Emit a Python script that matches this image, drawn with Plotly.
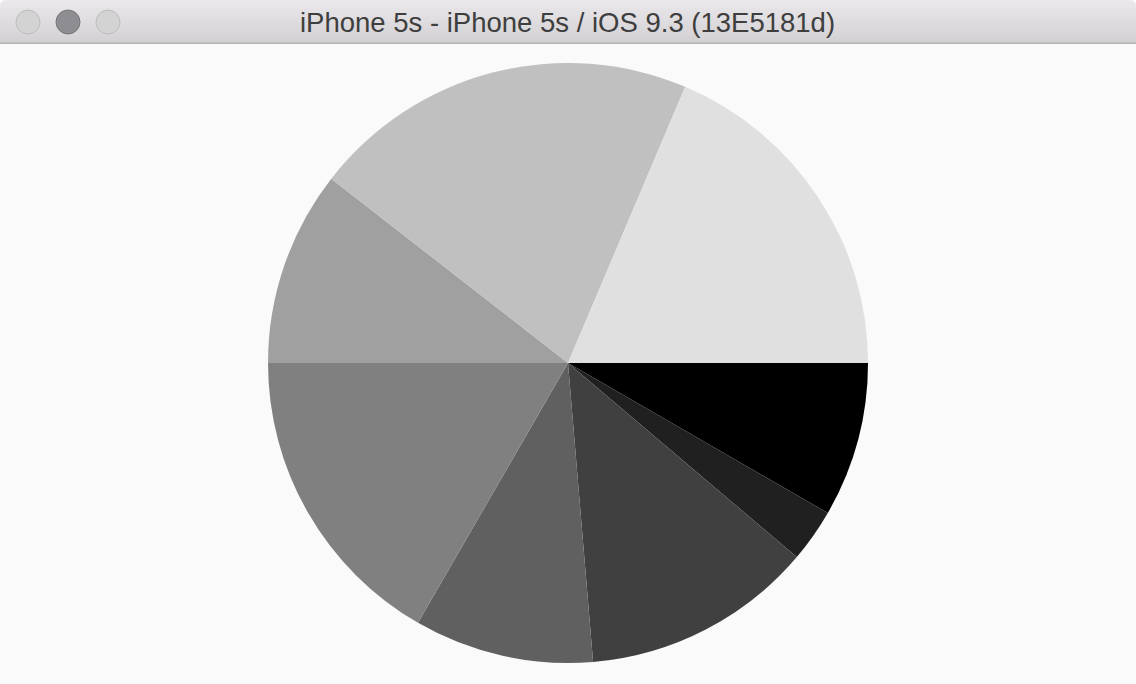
import plotly.graph_objects as go

# Slice values (degrees of the full circle), clockwise from 3 o'clock
labels = ["A", "B", "C", "D", "E", "F", "G", "H"]
values = [30, 10.3, 44.9, 34.8, 60, 37.9, 75.1, 67.0]
colors = ["#000000", "#202020", "#404040", "#606060", "#808080", "#a0a0a0", "#c0c0c0", "#e0e0e0"]
title_text = "iPhone 5s - iPhone 5s / iOS 9.3 (13E5181d)"

W, H = 1136, 684

def px(x):
    return x / W

def py(y):
    return 1 - y / H

fig = go.Figure()
fig.add_trace(go.Pie(
    labels=labels, values=values, sort=False, direction="clockwise", rotation=90,
    marker=dict(colors=colors, line=dict(width=0)),
    textinfo="none", hoverinfo="label+value", showlegend=False,
    domain=dict(x=[px(268), px(868)], y=[py(663), py(63)]),
))

shapes = []
# title bar gradient
top = (0xea, 0xe8, 0xea)
bot = (0xd2, 0xd0, 0xd2)
n = 22
for i in range(n):
    t = i / (n - 1)
    c = tuple(round(top[k] + (bot[k] - top[k]) * t) for k in range(3))
    shapes.append(dict(type="rect", xref="paper", yref="paper",
                       x0=0, x1=1, y0=py(i * 2 + 2), y1=py(i * 2),
                       fillcolor="rgb(%d,%d,%d)" % c, line=dict(width=0), layer="below"))
shapes.append(dict(type="rect", xref="paper", yref="paper", x0=0, x1=1,
                   y0=py(44), y1=py(42.5), fillcolor="#b4b2b4", line=dict(width=0)))
# rounded corners (white)
for cx, sgn in [(0, 1), (W, -1)]:
    shapes.append(dict(type="path", xref="paper", yref="paper",
                       path="M %f %f L %f %f Q %f %f %f %f Z" % (
                           px(cx), py(0), px(cx + sgn * 6), py(0), px(cx), py(0), px(cx), py(6)),
                       fillcolor="#ffffff", line=dict(width=0)))
# traffic lights
for cx, fill, edge in [(28, "#d3d3d3", "#bcbcbc"), (68, "#8e8d92", "#767579"), (108, "#d3d3d3", "#bcbcbc")]:
    r = 12
    shapes.append(dict(type="circle", xref="paper", yref="paper",
                       x0=px(cx - r), x1=px(cx + r), y0=py(22 + r), y1=py(22 - r),
                       fillcolor=fill, line=dict(color=edge, width=1)))

fig.update_layout(
    width=W, height=H, margin=dict(l=0, r=0, t=0, b=0),
    paper_bgcolor="#fafafa", plot_bgcolor="#fafafa",
    shapes=shapes,
    annotations=[dict(text=title_text, xref="paper", yref="paper", x=px(567), y=py(22),
                      xanchor="center", yanchor="middle", showarrow=False,
                      font=dict(family="Liberation Sans, Arial, sans-serif", size=27.5, color="#3e3e3e"))],
)
fig.write_html("out.html", config={"displayModeBar": False},
               post_script="document.body.style.margin='0';document.body.style.overflow='hidden';")
